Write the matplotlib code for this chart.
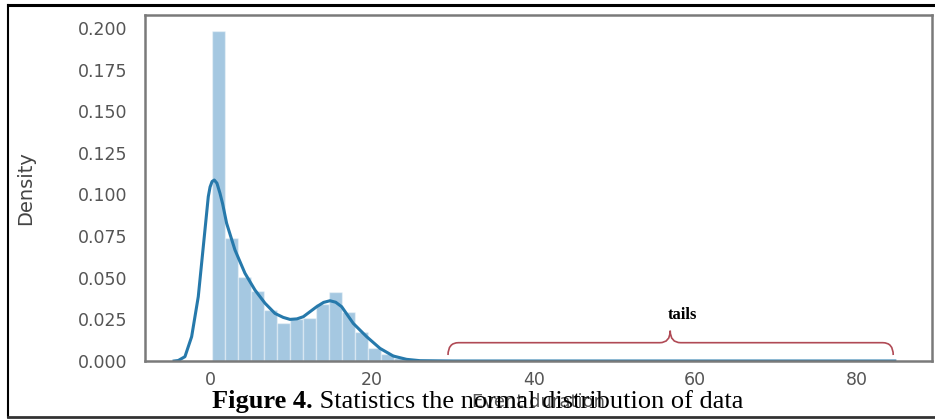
import matplotlib
matplotlib.use("Agg")
import matplotlib.pyplot as plt
from matplotlib.path import Path
from matplotlib.patches import PathPatch
from matplotlib.lines import Line2D
import numpy as np

# histogram (density)
bin_start = 0.15
bin_width = 1.61
bar_density = [0.198, 0.0737, 0.0506, 0.042, 0.0306, 0.0226, 0.025, 0.0258,
               0.034, 0.0414, 0.0293, 0.0176, 0.008, 0.004, 0.0016, 0.0008, 0.0004]

# kde line
kde_x = [-4.5, -3.99, -3.16, -2.33, -1.51, -0.89, -0.27, -0.05, 0.2, 0.47, 0.8,
         1.18, 1.5, 2.00, 3.03, 4.27, 5.51, 6.75, 7.98, 9.0, 9.84, 10.7, 11.49,
         13.14, 14.0, 14.79, 15.5, 16.24, 17.67, 19.33, 20.98, 22.62, 24.27,
         25.93, 30.0, 84.7]
kde_y = [0.0, 0.0003, 0.0026, 0.0146, 0.0386, 0.0686, 0.0987, 0.1045, 0.1078,
         0.1087, 0.1068, 0.1007, 0.0945, 0.0827, 0.0667, 0.0527, 0.0426, 0.0347,
         0.0286, 0.0262, 0.0250, 0.0253, 0.0266, 0.0326, 0.0352, 0.0362, 0.0353,
         0.0326, 0.0226, 0.0146, 0.0076, 0.0030, 0.0010, 0.0002, 0.0, 0.0]

y_ticks = [0.0, 0.025, 0.05, 0.075, 0.1, 0.125, 0.15, 0.175, 0.2]
x_ticks = [0, 20, 40, 60, 80]

fig = plt.figure(figsize=(9.35, 4.19), dpi=100)
ax = fig.add_axes([0.1551, 0.1384, 0.8417, 0.8258])

edges = bin_start + bin_width * np.arange(len(bar_density))
ax.bar(edges, bar_density, width=bin_width, align="edge",
       color="#1f77b4", alpha=0.4, edgecolor="white", linewidth=1.0)
ax.plot(kde_x, kde_y, color="#2679ab", linewidth=2.2, solid_joinstyle="round")

ax.set_xlim(-8.1, 89.3)
ax.set_ylim(0, 0.2078)
ax.set_yticks(y_ticks)
ax.set_yticklabels(["%.3f" % v for v in y_ticks])
ax.set_xticks(x_ticks)
ax.tick_params(length=0, labelsize=12.5, labelcolor="#555555")
ax.tick_params(axis="y", pad=13)
ax.tick_params(axis="x", pad=7)
for s in ax.spines.values():
    s.set_color("#7a7a7a")
    s.set_linewidth(1.8)

ax.set_ylabel("Density", fontsize=14, color="#444444",
              family=["Liberation Sans Narrow", "DejaVu Sans"])
ax.yaxis.set_label_coords(-0.140, 0.5)
ax.set_xlabel("Event duration", fontsize=13, color="#555555")
ax.xaxis.set_label_coords(0.5, -0.092)

# curly brace over the tail
x0, xm, x1 = 29.4, 56.9, 84.5
yb, yl, yt = 0.0036, 0.011, 0.0182
r = 1.3
verts = [(x0, yb), (x0, yl), (x0 + r, yl),
         (xm - r, yl), (xm, yl), (xm, yt),
         (xm, yl), (xm + r, yl),
         (x1 - r, yl), (x1, yl), (x1, yb)]
codes = [Path.MOVETO, Path.CURVE3, Path.CURVE3,
         Path.LINETO, Path.CURVE3, Path.CURVE3,
         Path.CURVE3, Path.CURVE3,
         Path.LINETO, Path.CURVE3, Path.CURVE3]
ax.add_patch(PathPatch(Path(verts, codes), facecolor="none",
                       edgecolor="#b04a55", linewidth=1.2))
ax.text(xm - 0.3, 0.0275, "tails", fontsize=12, fontweight="bold",
        family="Liberation Serif", ha="left", va="center", color="black")

# outer frame
fig.add_artist(Line2D([0.0086, 1.0], [0.988, 0.988], color="black", linewidth=2.2))
fig.add_artist(Line2D([0.0086, 0.0086], [0.005, 0.988], color="black", linewidth=1.5))
fig.add_artist(Line2D([0.0086, 1.0], [0.005, 0.005], color="#333333", linewidth=2.0))

# caption
t1 = fig.text(212 / 935, 0.0274, "Figure 4.", fontsize=19, fontweight="bold",
              family="Liberation Serif", va="baseline", ha="left")
fig.canvas.draw()
bb = t1.get_window_extent()
fig.text(bb.x1 / fig.bbox.width, 0.0274, " Statistics the normal distribution of data",
         fontsize=19, family="Liberation Serif", va="baseline", ha="left")

fig.savefig("out.png", dpi=100)
